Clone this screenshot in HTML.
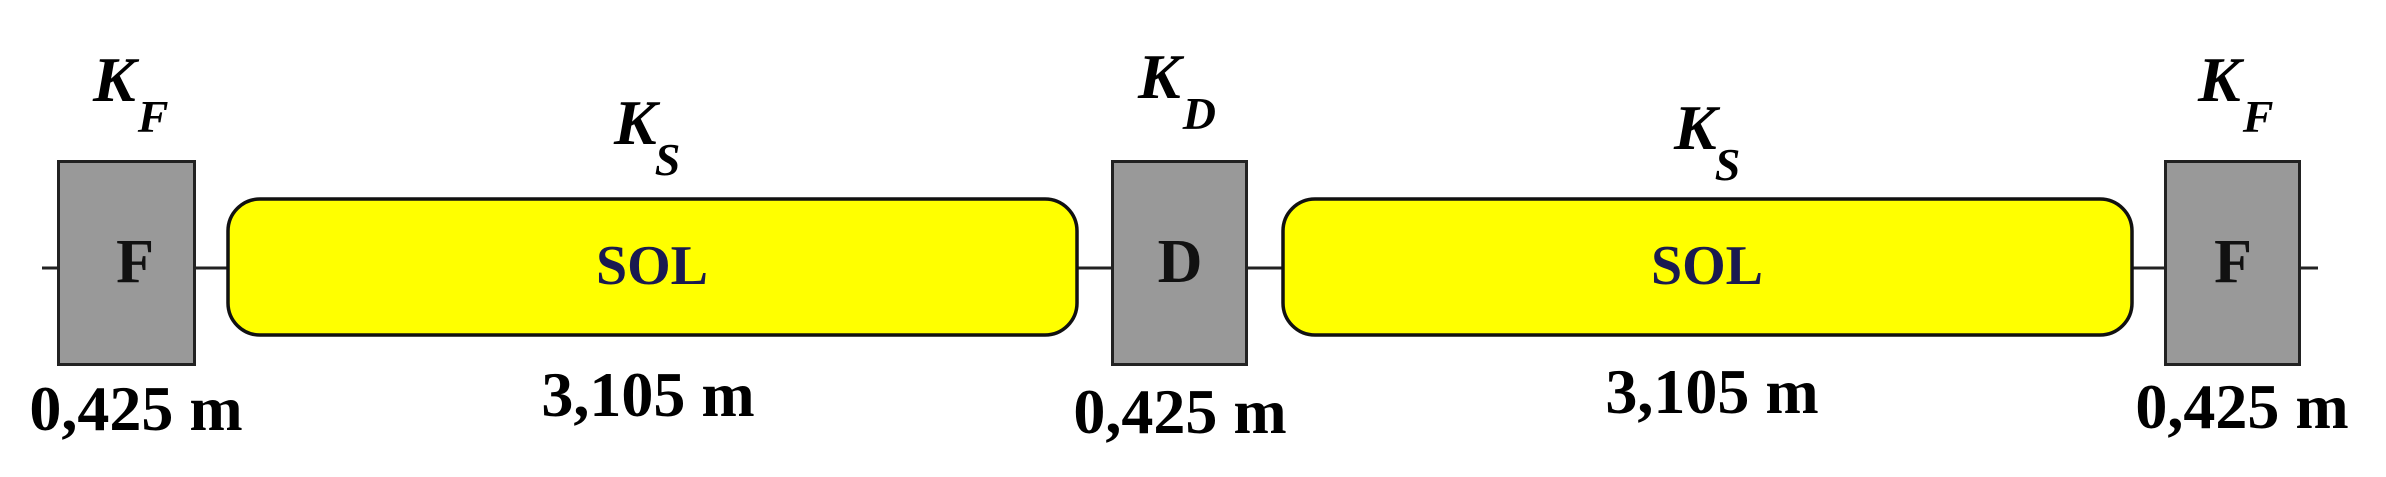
<!DOCTYPE html>
<html><head><meta charset="utf-8"><style>
html,body{margin:0;padding:0;background:#fff;}
svg{display:block;}
text{font-family:"Liberation Serif",serif;font-weight:bold;}
</style></head><body>
<svg width="2386" height="477" viewBox="0 0 2386 477" xmlns="http://www.w3.org/2000/svg">
<line x1="42" y1="268" x2="2318" y2="268" stroke="#222" stroke-width="3"/>
<rect x="58.5" y="161.5" width="136" height="203" fill="#999" stroke="#222" stroke-width="3"/>
<rect x="1112.5" y="161.5" width="134" height="203" fill="#999" stroke="#222" stroke-width="3"/>
<rect x="2165.5" y="161.5" width="134" height="203" fill="#999" stroke="#222" stroke-width="3"/>
<rect x="228" y="199" width="849" height="136" rx="32" ry="32" fill="#ff0" stroke="#111" stroke-width="3.5"/>
<rect x="1283" y="199" width="849" height="136" rx="32" ry="32" fill="#ff0" stroke="#111" stroke-width="3.5"/>
<g font-size="62" fill="#111" text-anchor="middle">
<text x="135" y="282">F</text>
<text x="1180" y="282">D</text>
<text x="2233" y="282">F</text>
</g>
<g font-size="56" fill="#1a1a50" text-anchor="middle">
<text x="652" y="284">SOL</text>
<text x="1707" y="284">SOL</text>
</g>
<g font-style="italic" fill="#000">
<text x="93" y="101" font-size="64">K<tspan font-size="46" dx="2" dy="31">F</tspan></text>
<text x="614" y="144" font-size="64">K<tspan font-size="46" dx="-2" dy="31">S</tspan></text>
<text x="1138" y="98" font-size="64">K<tspan font-size="46" dx="2" dy="31">D</tspan></text>
<text x="1674" y="149" font-size="64">K<tspan font-size="46" dx="-2" dy="31">S</tspan></text>
<text x="2198" y="101" font-size="64">K<tspan font-size="46" dx="2" dy="31">F</tspan></text>
</g>
<g font-size="64" fill="#000" text-anchor="middle">
<text x="136" y="430">0,425 m</text>
<text x="648" y="416">3,105 m</text>
<text x="1180" y="433">0,425 m</text>
<text x="1712" y="413">3,105 m</text>
<text x="2242" y="428">0,425 m</text>
</g>
</svg>
</body></html>
